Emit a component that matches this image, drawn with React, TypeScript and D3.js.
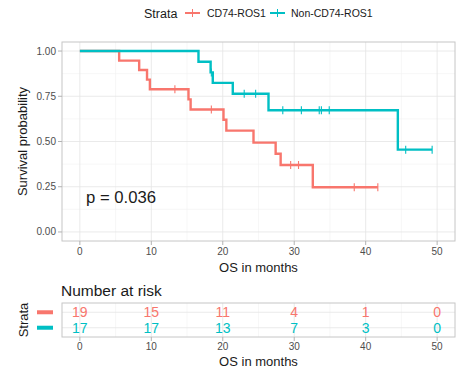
import React from "react";
import * as d3 from "d3";

const redTimes = [0, 5.5, 8.3, 9.4, 9.8, 15.2, 15.5, 20.1, 20.5, 24.3, 27.4, 28.1, 32.6];
const redSurv = [1, 0.947, 0.895, 0.842, 0.789, 0.733, 0.677, 0.62, 0.56, 0.494, 0.432, 0.37, 0.247];
const redEnd = 41.7;
const redCensor = [13.3, 18.4, 29.5, 30.6, 38.4, 41.7];

const tealTimes = [0, 16.6, 18.3, 18.6, 21.4, 26.4, 44.5];
const tealSurv = [1, 0.941, 0.882, 0.824, 0.764, 0.673, 0.455];
const tealEnd = 49.3;
const tealCensor = [18.4, 23.0, 24.6, 28.4, 31.0, 33.5, 33.8, 34.9, 45.6, 49.3];

const strata = ["CD74-ROS1", "Non-CD74-ROS1"];
const colors = ["#F8766D", "#00BFC4"];
const riskTimes = [0, 10, 20, 30, 40, 50];
const riskRed = [19, 15, 11, 4, 1, 0];
const riskTeal = [17, 17, 13, 7, 3, 0];
const yTicks = [0, 0.25, 0.5, 0.75, 1];
const yTickLabels = ["0.00", "0.25", "0.50", "0.75", "1.00"];
const xTicks = [0, 10, 20, 30, 40, 50];
const xMinor = [5, 15, 25, 35, 45];
const yMinor = [0.125, 0.375, 0.625, 0.875];

const FONT = "'Liberation Sans', Arial, sans-serif";
const GRID = "#e4e4e4";
const BORDER = "#c6c6c6";
const TICKTXT = "#4d4d4d";

function survAt(times: number[], surv: number[], t: number) {
  let s = surv[0];
  for (let i = 0; i < times.length; i++) if (times[i] <= t) s = surv[i];
  return s;
}

export default function App() {
  const P = { l: 62, r: 455, t: 42, b: 241 };
  const R = { l: 62, r: 455, t: 303, b: 337 };
  const x = d3.scaleLinear().domain([-2.5, 52.5]).range([P.l, P.r]);
  const y = d3.scaleLinear().domain([-0.05, 1.05]).range([P.b, P.t]);
  const ry = d3.scalePoint<string>().domain(strata).range([R.t, R.b]).padding(0.6);

  const line = d3
    .line<[number, number]>()
    .x((d) => x(d[0]))
    .y((d) => y(d[1]))
    .curve(d3.curveStepAfter);

  const series = [
    { times: redTimes, surv: redSurv, end: redEnd, censor: redCensor, color: colors[0] },
    { times: tealTimes, surv: tealSurv, end: tealEnd, censor: tealCensor, color: colors[1] },
  ];
  const risks = [riskRed, riskTeal];

  return (
    <svg width={471} height={375} style={{ display: "block", position: "absolute", left: 0, top: 0 }} fontFamily={FONT}>
      <rect x={0} y={0} width={471} height={375} fill="white" />
      {/* legend */}
      <text x={144} y={17.5} fontSize={12.5} fill="#1a1a1a">Strata</text>
      {strata.map((s, i) => {
        const kx = i === 0 ? 185 : 270;
        const tx = i === 0 ? 207 : 291;
        return (
          <g key={s}>
            <line x1={kx} x2={kx + 15} y1={13} y2={13} stroke={colors[i]} strokeWidth={2} />
            <line x1={kx + 7.5} x2={kx + 7.5} y1={9} y2={17} stroke={colors[i]} strokeWidth={1} />
            <text x={tx} y={16.8} fontSize={10.5} fill="#1a1a1a">{s}</text>
          </g>
        );
      })}

      {/* main panel grid */}
      {xMinor.map((t) => (
        <line key={"xm" + t} x1={x(t)} x2={x(t)} y1={P.t} y2={P.b} stroke="#f1f1f1" strokeWidth={0.6} />
      ))}
      {yMinor.map((t) => (
        <line key={"ym" + t} x1={P.l} x2={P.r} y1={y(t)} y2={y(t)} stroke="#f1f1f1" strokeWidth={0.6} />
      ))}
      {xTicks.map((t) => (
        <line key={"xg" + t} x1={x(t)} x2={x(t)} y1={P.t} y2={P.b} stroke={GRID} strokeWidth={0.8} />
      ))}
      {yTicks.map((t) => (
        <line key={"yg" + t} x1={P.l} x2={P.r} y1={y(t)} y2={y(t)} stroke={GRID} strokeWidth={0.8} />
      ))}

      {/* curves */}
      {series.map((s, i) => {
        const pts: [number, number][] = s.times.map((t, j) => [t, s.surv[j]] as [number, number]);
        pts.push([s.end, s.surv[s.surv.length - 1]]);
        return (
          <g key={"s" + i}>
            <path d={line(pts) || ""} fill="none" stroke={s.color} strokeWidth={2.4} />
            {s.censor.map((c, k) => {
              const v = survAt(s.times, s.surv, c);
              return (
                <line key={k} x1={x(c)} x2={x(c)} y1={y(v) - 4} y2={y(v) + 4} stroke={s.color} strokeWidth={1.1} />
              );
            })}
          </g>
        );
      })}

      <rect x={P.l} y={P.t} width={P.r - P.l} height={P.b - P.t} fill="none" stroke={BORDER} strokeWidth={1} />

      {/* y axis */}
      {yTicks.map((t, i) => (
        <g key={"yt" + t}>
          <line x1={P.l - 4} x2={P.l} y1={y(t)} y2={y(t)} stroke="#b3b3b3" strokeWidth={1} />
          <text x={P.l - 6} y={y(t)} dy="0.35em" textAnchor="end" fontSize={10} fill={TICKTXT}>
            {yTickLabels[i]}
          </text>
        </g>
      ))}
      <text
        transform={`translate(22,${(P.t + P.b) / 2}) rotate(-90)`}
        textAnchor="middle"
        dy="0.35em"
        fontSize={13}
        fill="#1a1a1a"
      >
        Survival probability
      </text>
      {/* x axis */}
      {xTicks.map((t) => (
        <g key={"xt" + t}>
          <line x1={x(t)} x2={x(t)} y1={P.b} y2={P.b + 4} stroke="#b3b3b3" strokeWidth={1} />
          <text x={x(t)} y={P.b + 14} textAnchor="middle" fontSize={10} fill={TICKTXT}>
            {t}
          </text>
        </g>
      ))}
      <text x={(P.l + P.r) / 2} y={272} textAnchor="middle" fontSize={13} fill="#1a1a1a">
        OS in months
      </text>

      <text x={86} y={202.5} fontSize={16.7} fill="#1a1a1a">p = 0.036</text>

      {/* risk table */}
      <text x={61} y={295.5} fontSize={15.5} fill="#1a1a1a">Number at risk</text>
      {xMinor.map((t) => (
        <line key={"rxm" + t} x1={x(t)} x2={x(t)} y1={R.t} y2={R.b} stroke="#f1f1f1" strokeWidth={0.6} />
      ))}
      {xTicks.map((t) => (
        <line key={"rxg" + t} x1={x(t)} x2={x(t)} y1={R.t} y2={R.b} stroke={GRID} strokeWidth={0.8} />
      ))}
      {strata.map((s) => (
        <line key={"ryg" + s} x1={R.l} x2={R.r} y1={ry(s)!} y2={ry(s)!} stroke={GRID} strokeWidth={0.8} />
      ))}
      {strata.map((s, i) =>
        riskTimes.map((t, k) => (
          <text
            key={s + t}
            x={x(t)}
            y={ry(s)!}
            dy="0.36em"
            textAnchor="middle"
            fontSize={14}
            fill={colors[i]}
          >
            {risks[i][k]}
          </text>
        ))
      )}
      <rect x={R.l} y={R.t} width={R.r - R.l} height={R.b - R.t} fill="none" stroke={BORDER} strokeWidth={1} />
      {strata.map((s, i) => (
        <rect key={"rk" + s} x={37} y={ry(s)! - 2} width={16} height={4} fill={colors[i]} />
      ))}
      {xTicks.map((t) => (
        <g key={"rxt" + t}>
          <line x1={x(t)} x2={x(t)} y1={R.b} y2={R.b + 4} stroke="#b3b3b3" strokeWidth={1} />
          <text x={x(t)} y={R.b + 13} textAnchor="middle" fontSize={10} fill={TICKTXT}>
            {t}
          </text>
        </g>
      ))}
      <text x={(P.l + P.r) / 2} y={366} textAnchor="middle" fontSize={13} fill="#1a1a1a">
        OS in months
      </text>
      <text
        transform={`translate(23,${(R.t + R.b) / 2}) rotate(-90)`}
        textAnchor="middle"
        dy="0.35em"
        fontSize={13}
        fill="#1a1a1a"
      >
        Strata
      </text>
    </svg>
  );
}
